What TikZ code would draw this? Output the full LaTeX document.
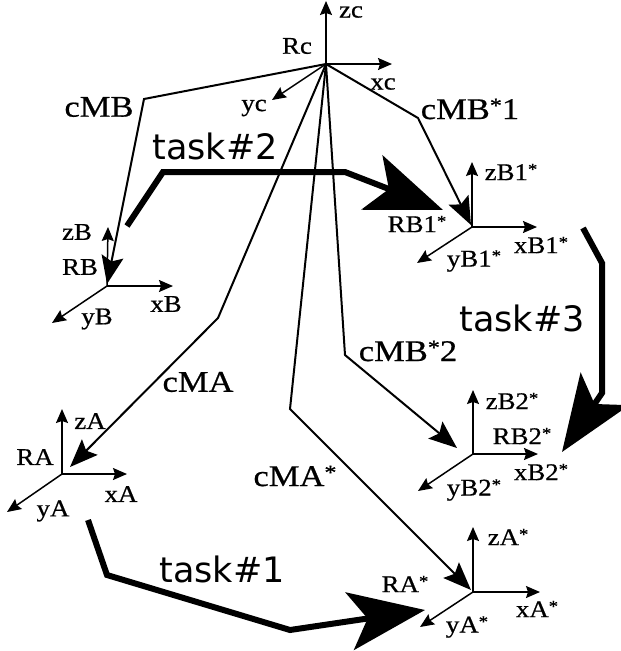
\documentclass[tikz,border=0pt]{standalone}
\usepackage{fontspec}
\usepackage{graphicx}
\usetikzlibrary{arrows.meta}
\newfontfamily\serifa[FakeStretch=1.12,FakeBold=0.6]{Liberation Serif}
\newfontfamily\serifb[FakeStretch=1.15,FakeBold=0.6]{Liberation Serif}
\newfontfamily\sansf{DejaVu Sans}
\newcommand\mystar{\raisebox{0.22em}{\scalebox{0.7}{*}}}
\tikzset{
  axis/.style={line width=1.5pt,-{Stealth[length=14pt,width=12pt,inset=2pt]}},
  conn/.style={line width=2pt,line join=miter,-{Stealth[length=28pt,width=22pt,inset=5pt]}},
  task/.style={line width=6pt,line join=miter,-{Stealth[length=76pt,width=58pt,inset=18pt]}},
  small/.style={font=\serifa\fontsize{24}{24}\selectfont,inner sep=0pt},
  big/.style={font=\serifb\fontsize{30}{30}\selectfont,inner sep=0pt},
  tasklbl/.style={font=\sansf\fontsize{35}{35}\selectfont,inner sep=0pt},
}
\begin{document}
\begin{tikzpicture}[x=1pt,y=-1pt]
\useasboundingbox (0,0) rectangle (621,651);
% frame origins and axis tips
\coordinate (Oc) at (326,64);
\coordinate (zc) at (326,1);
\coordinate (xc) at (392,64);
\coordinate (yc) at (272,100);
\coordinate (OB) at (107,286);
\coordinate (zB) at (108,227);
\coordinate (xB) at (173,286);
\coordinate (yB) at (52,323);
\coordinate (OB1) at (472,227);
\coordinate (zB1) at (472,162);
\coordinate (xB1) at (537,227);
\coordinate (yB1) at (417,263);
\coordinate (OB2) at (473,454);
\coordinate (zB2) at (473,390);
\coordinate (xB2) at (538,454);
\coordinate (yB2) at (418,491);
\coordinate (OA) at (62,474);
\coordinate (zA) at (62,409);
\coordinate (xA) at (127,474);
\coordinate (yA) at (7,512);
\coordinate (OAs) at (473,592);
\coordinate (zAs) at (473,527);
\coordinate (xAs) at (540,592);
\coordinate (yAs) at (420,627);
% axes
\foreach \o/\a in {Oc/zc,Oc/xc,Oc/yc,OB/zB,OB/xB,OB/yB,OB1/zB1,OB1/xB1,OB1/yB1,OB2/zB2,OB2/xB2,OB2/yB2,OA/zA,OA/xA,OA/yA,OAs/zAs,OAs/xAs,OAs/yAs}
  \draw[axis] (\o) -- (\a);
% connector bends and ends
\coordinate (bMB) at (144,99);
\coordinate (eMB) at (107,284);
\coordinate (bMB1) at (418,118);
\coordinate (eMB1) at (471,225);
\coordinate (bMB2) at (345,355);
\coordinate (eMB2) at (457,448);
\coordinate (bMA) at (218,318);
\coordinate (eMA) at (70,467);
\coordinate (bMAs) at (290,409);
\coordinate (eMAs) at (471,590);
\draw[conn] (Oc) -- (bMB) -- (eMB);
\draw[conn] (Oc) -- (bMB1) -- (eMB1);
\draw[conn] (Oc) -- (bMB2) -- (eMB2);
\draw[conn] (Oc) -- (bMA) -- (eMA);
\draw[conn] (Oc) -- (bMAs) -- (eMAs);
% task arrows
\coordinate (t2s) at (127,226);
\coordinate (t2a) at (163,172);
\coordinate (t2b) at (345,172);
\coordinate (t2e) at (443,210);
\coordinate (t3s) at (583,228);
\coordinate (t3a) at (602,263);
\coordinate (t3b) at (602,393);
\coordinate (t3e) at (562,452);
\coordinate (t1s) at (88,520);
\coordinate (t1a) at (107,575);
\coordinate (t1b) at (290,630);
\coordinate (t1e) at (425,610);
\draw[task] (t2s) -- (t2a) -- (t2b) -- (t2e);
\draw[task] (t3s) -- (t3a) -- (t3b) -- (t3e);
\draw[task] (t1s) -- (t1a) -- (t1b) -- (t1e);
% labels
\node[small] (lzc) at (351,12) {zc};
\node[small] (lxc) at (383,84) {xc};
\node[small] (lRc) at (297,46) {Rc};
\node[small] (lyc) at (254,108) {yc};
\node[small] (lzB) at (77,232) {zB};
\node[small] (lRB) at (80,267) {RB};
\node[small] (lxB) at (166,304) {xB};
\node[small] (lyB) at (97,319) {yB};
\node[small] (lzB1) at (511,172) {zB1\mystar};
\node[small] (lRB1) at (417,224) {RB1\mystar};
\node[small] (lxB1) at (541,245) {xB1\mystar};
\node[small] (lyB1) at (474,261) {yB1\mystar};
\node[small] (lzB2) at (512,401) {zB2\mystar};
\node[small] (lRB2) at (522,436) {RB2\mystar};
\node[small] (lxB2) at (541,472) {xB2\mystar};
\node[small] (lyB2) at (474,490) {yB2\mystar};
\node[small] (lzA) at (90,421) {zA};
\node[small] (lRA) at (35,457) {RA};
\node[small] (lxA) at (121,494) {xA};
\node[small] (lyA) at (53,511) {yA};
\node[small] (lzAs) at (508,537) {zA\mystar};
\node[small] (lRAs) at (405,584) {RA\mystar};
\node[small] (lxAs) at (537,609) {xA\mystar};
\node[small] (lyAs) at (467,627) {yA\mystar};
\node[big] (lMB) at (99,107) {cMB};
\node[big] (lMB1) at (470,109) {cMB\mystar1};
\node[big] (lMB2) at (408,351) {cMB\mystar2};
\node[big] (lMA) at (198,382) {cMA};
\node[big] (lMAs) at (295,476) {cMA\mystar};
\node[tasklbl] (lt2) at (215,146) {task\#2};
\node[tasklbl] (lt3) at (522,318) {task\#3};
\node[tasklbl] (lt1) at (222,569) {task\#1};
\end{tikzpicture}
\end{document}
